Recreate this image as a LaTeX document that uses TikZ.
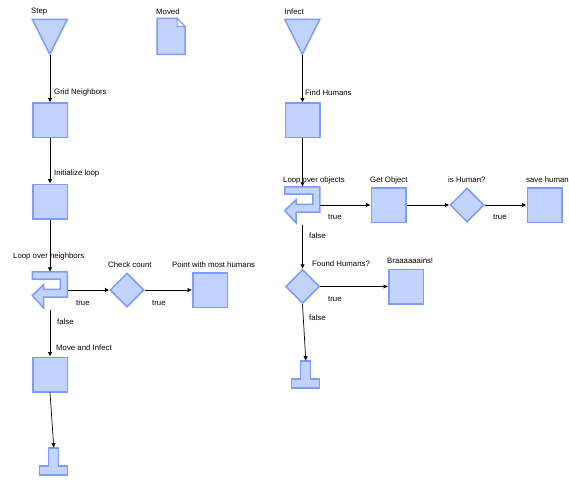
\documentclass[tikz,border=0pt]{standalone}
\usepackage{fontspec}
\setmainfont{Liberation Sans}
\usetikzlibrary{shapes.geometric,arrows.meta}
\definecolor{shfill}{HTML}{C2D4FE}
\definecolor{shline}{HTML}{7C9CFC}
\tikzset{
  shp/.style={fill=shfill,draw=shline,line width=1.5pt,line join=miter},
  sq/.style={shp,rectangle,minimum size=34.5pt,inner sep=0pt},
  dia/.style={shp,diamond,minimum size=34pt,inner sep=0pt},
  hold/.style 2 args={rectangle,inner sep=0pt,minimum width=#1,minimum height=#2},
  lbl/.style={font=\fontsize{7.8}{9}\selectfont,inner sep=0pt,anchor=west},
  conn/.style={draw=black,line width=0.7pt,-{Latex[length=4.5pt,width=4.5pt]}},
}
\begin{document}
\begin{tikzpicture}[x=1pt,y=-1pt]
\useasboundingbox[fill=white] (0,0) rectangle (569,481);

% ---------- left flow ----------
\node[hold={35pt}{35pt}] (step) at (50,37) {};
\begin{scope}[shift={(step.north west)}]
  \draw[shp] (0,0) -- (35,0) -- (17.5,35) -- cycle;
\end{scope}
\node[hold={28pt}{36pt}] (moved) at (171.3,36.7) {};
\begin{scope}[shift={(moved.north west)}]
  \draw[shp] (0,0) -- (20,0) -- (28,8) -- (28,36) -- (0,36) -- cycle;
  \draw[shp,fill=white,line width=1pt] (20,0) -- (20,8) -- (28,8) -- cycle;
\end{scope}
\node[sq] (grid) at (50,120.5) {};
\node[sq] (init) at (50,201.5) {};
\node[hold={35pt}{36pt}] (loopa) at (50,290) {};
\begin{scope}[shift={(loopa.north west)}]
  \draw[shp] (0,0) -- (35,0) -- (35,25.2) -- (11.2,25.2) -- (11.2,36) -- (0,23.8)
    -- (11.2,13) -- (11.2,17.6) -- (28,17.6) -- (28,7.2) -- (0,7.2) -- cycle;
\end{scope}
\node[dia] (check) at (127,290) {};
\node[sq] (point) at (210,290) {};
\node[sq] (move) at (50,374.5) {};
\node[hold={28pt}{27pt}] (enda) at (53.8,461.5) {};
\begin{scope}[shift={(enda.north west)}]
  \draw[shp] (9,0) -- (19,0) -- (19,18) -- (28,18) -- (28,27) -- (0,27) -- (0,18) -- (9,18) -- cycle;
\end{scope}

% ---------- right flow ----------
\node[hold={35pt}{35pt}] (infect) at (302.5,37) {};
\begin{scope}[shift={(infect.north west)}]
  \draw[shp] (0,0) -- (35,0) -- (17.5,35) -- cycle;
\end{scope}
\node[sq] (find) at (302.5,120.5) {};
\node[hold={35pt}{36pt}] (loopb) at (302.5,205) {};
\begin{scope}[shift={(loopb.north west)}]
  \draw[shp] (0,0) -- (35,0) -- (35,25.2) -- (11.2,25.2) -- (11.2,36) -- (0,23.8)
    -- (11.2,13) -- (11.2,17.6) -- (28,17.6) -- (28,7.2) -- (0,7.2) -- cycle;
\end{scope}
\node[sq] (getobj) at (388.5,205) {};
\node[dia] (ishuman) at (467,205) {};
\node[sq] (save) at (544.5,205) {};
\node[dia] (found) at (302.5,286.5) {};
\node[sq] (brains) at (406,286.5) {};
\node[hold={28pt}{27pt}] (endb) at (305.8,374.5) {};
\begin{scope}[shift={(endb.north west)}]
  \draw[shp] (9,0) -- (19,0) -- (19,18) -- (28,18) -- (28,27) -- (0,27) -- (0,18) -- (9,18) -- cycle;
\end{scope}

% ---------- connectors ----------
\draw[conn] (step.south) -- (grid.north);
\draw[conn] (grid.south) -- (init.north);
\draw[conn] (init.south) -- (loopa.north);
\draw[conn] (loopa.east) -- (check.west);
\draw[conn] (check.east) -- (point.west);
\draw[conn] ([yshift=-1.5pt]loopa.south) -- (move.north);
\draw[conn] (move.south) -- (enda.north);

\draw[conn] (infect.south) -- (find.north);
\draw[conn] (find.south) -- (loopb.north);
\draw[conn] (loopb.east) -- (getobj.west);
\draw[conn] (getobj.east) -- (ishuman.west);
\draw[conn] (ishuman.east) -- (save.west);
\draw[conn] ([yshift=-1.5pt]loopb.south) -- (found.north);
\draw[conn] (found.east) -- (brains.west);
\draw[conn] (found.south) -- (endb.north);

% ---------- labels ----------
\node[lbl] (lstep) at (31,12) {Step};
\node[lbl] (lmoved) at (156,12) {Moved};
\node[lbl] (lgrid) at (54,92) {Grid Neighbors};
\node[lbl] (linit) at (54,173) {Initialize loop};
\node[lbl] (lloopa) at (13,256) {Loop over neighbors};
\node[lbl] (lcheck) at (108,265) {Check count};
\node[lbl] (lpoint) at (172,264.5) {Point with most humans};
\node[lbl] (ta) at (76,303) {true};
\node[lbl] (tb) at (152,303) {true};
\node[lbl] (fa) at (57,322) {false};
\node[lbl] (lmove) at (56,348) {Move and Infect};

\node[lbl] (linfect) at (284.5,12) {Infect};
\node[lbl] (lfind) at (305,92.5) {Find Humans};
\node[lbl] (lloopb) at (283,180) {Loop over objects};
\node[lbl] (lget) at (370,180) {Get Object};
\node[lbl] (lis) at (448,180) {is Human?};
\node[lbl] (lsave) at (526,180) {save human};
\node[lbl] (tc) at (328,217) {true};
\node[lbl] (td) at (493,217) {true};
\node[lbl] (fb) at (309,236) {false};
\node[lbl] (lfound) at (312,264) {Found Humans?};
\node[lbl] (lbrains) at (387,261) {Braaaaaains!};
\node[lbl] (te) at (328,299) {true};
\node[lbl] (fc) at (309,318) {false};
\end{tikzpicture}
\end{document}
